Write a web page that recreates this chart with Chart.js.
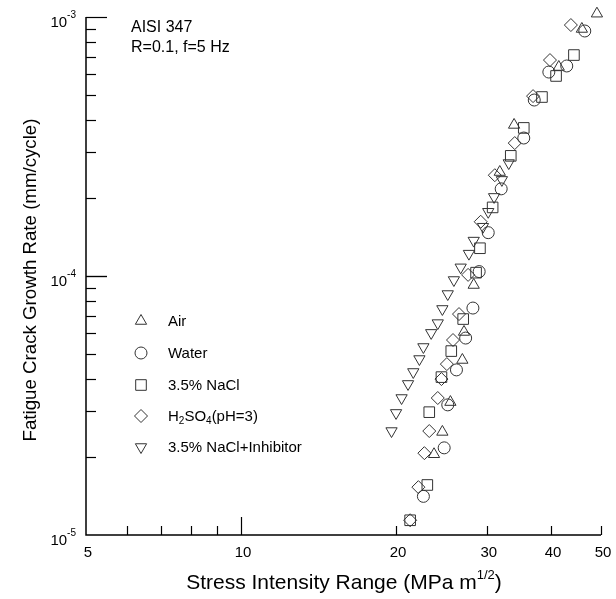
<!DOCTYPE html>
<html>
<head>
<meta charset="utf-8">
<script src="https://cdn.jsdelivr.net/npm/chart.js@4.4.0/dist/chart.umd.min.js"></script>
<style>
html, body { margin: 0; padding: 0; background: #fff; }
#wrap { width: 616px; height: 599px; position: relative; }
</style>
</head>
<body>
<div id="wrap"><canvas id="fcgChart"></canvas></div>
<script>
// stress intensity range (MPa m^1/2) and crack growth rate (mm/cycle)
var airK = [49.1, 45.9, 41.4, 33.9, 31.8, 28.3, 27.1, 26.9, 25.5, 24.6, 23.7];
var airRate = [1.03e-3, 8.99e-4, 6.41e-4, 3.83e-4, 2.52e-4, 9.23e-5, 6.08e-5, 4.74e-5, 3.26e-5, 2.50e-5, 2.05e-5];

var waterK = [46.5, 42.9, 39.6, 37.1, 35.4, 32.0, 30.2, 29.0, 28.2, 27.3, 26.2, 25.2, 24.8, 22.6];
var waterRate = [8.83e-4, 6.47e-4, 6.13e-4, 4.78e-4, 3.41e-4, 2.17e-4, 1.47e-4, 1.04e-4, 7.52e-5, 5.76e-5, 4.34e-5, 3.18e-5, 2.17e-5, 1.41e-5];

var naclK = [44.3, 40.9, 38.4, 35.4, 33.4, 30.8, 29.1, 28.6, 27.0, 25.6, 24.5, 23.2, 23.0, 21.3];
var naclRate = [7.13e-4, 5.92e-4, 4.91e-4, 3.73e-4, 2.91e-4, 1.84e-4, 1.28e-4, 1.03e-4, 6.82e-5, 5.13e-5, 4.07e-5, 2.98e-5, 1.56e-5, 1.14e-5];

var acidK = [43.7, 39.8, 36.9, 34.0, 31.1, 29.2, 27.6, 26.5, 25.8, 25.1, 24.5, 24.1, 23.2, 22.7, 22.1, 21.3];
var acidRate = [9.31e-4, 6.82e-4, 4.95e-4, 3.26e-4, 2.45e-4, 1.62e-4, 1.01e-4, 7.13e-5, 5.66e-5, 4.57e-5, 4.00e-5, 3.38e-5, 2.52e-5, 2.07e-5, 1.53e-5, 1.14e-5];

var inhibK = [33.1, 32.1, 31.0, 30.2, 29.5, 28.3, 27.7, 26.7, 25.9, 25.2, 24.6, 24.1, 23.4, 22.6, 22.2, 21.6, 21.1, 20.5, 20.0, 19.6];
var inhibRate = [2.73e-4, 2.35e-4, 2.02e-4, 1.77e-4, 1.55e-4, 1.37e-4, 1.22e-4, 1.08e-4, 9.65e-5, 8.52e-5, 7.46e-5, 6.58e-5, 6.03e-5, 5.32e-5, 4.78e-5, 4.26e-5, 3.83e-5, 3.38e-5, 2.96e-5, 2.52e-5];

var xTickLabels = [5, 10, 20, 30, 40, 50];
var yTickExps = [-5, -4, -3];

var FONT = "'Liberation Sans', Arial, sans-serif";
var INK = '#333';

function pts(xs, ys) {
    return xs.map(function (k, i) { return { x: k, y: ys[i] }; });
}

var series = [
    { label: 'Air', k: airK, r: airRate, style: 'triangle', rot: 0, size: 6.5 },
    { label: 'Water', k: waterK, r: waterRate, style: 'circle', rot: 0, size: 6 },
    { label: '3.5% NaCl', k: naclK, r: naclRate, style: 'rect', rot: 0, size: 7.5 },
    { label: 'H2SO4(pH=3)', k: acidK, r: acidRate, style: 'rectRot', rot: 0, size: 6.5 },
    { label: '3.5% NaCl+Inhibitor', k: inhibK, r: inhibRate, style: 'triangle', rot: 180, size: 6.5 }
];

var datasets = series.map(function (s) {
    return {
        label: s.label,
        data: pts(s.k, s.r),
        pointStyle: s.style,
        rotation: s.rot,
        pointRadius: s.size,
        borderColor: INK,
        backgroundColor: 'rgba(0,0,0,0)',
        borderWidth: 1,
        clip: false
    };
});

// text with sub/superscript pieces: [text, size, dy]
function drawRuns(ctx, runs, x, y) {
    runs.forEach(function (r) {
        ctx.font = r[1] + 'px ' + FONT;
        ctx.fillText(r[0], x, y + r[2]);
        x += ctx.measureText(r[0]).width;
    });
}
function runsWidth(ctx, runs) {
    var w = 0;
    runs.forEach(function (r) {
        ctx.font = r[1] + 'px ' + FONT;
        w += ctx.measureText(r[0]).width;
    });
    return w;
}

var axesPlugin = {
    id: 'axesPlugin',
    afterDraw: function (chart) {
        var ctx = chart.ctx, a = chart.chartArea;
        var xs = chart.scales.x, ys = chart.scales.y;
        ctx.save();
        ctx.strokeStyle = '#000';
        ctx.fillStyle = '#000';

        // axis lines
        ctx.lineWidth = 1.5;
        ctx.beginPath();
        ctx.moveTo(a.left, a.top);
        ctx.lineTo(a.left, a.bottom);
        ctx.lineTo(a.right, a.bottom);
        ctx.stroke();

        // inward ticks, y
        ctx.lineWidth = 1.2;
        for (var e = -5; e < -3; e++) {
            for (var m = 1; m <= 10; m++) {
                var v = m * Math.pow(10, e);
                if (m === 1 && e === -5) continue;
                var py = Math.round(ys.getPixelForValue(v)) + 0.5;
                var len = (m === 1 || m === 10) ? 21 : 10;
                ctx.beginPath();
                ctx.moveTo(a.left, py);
                ctx.lineTo(a.left + len, py);
                ctx.stroke();
            }
        }
        // inward ticks, x
        [6, 7, 8, 9, 10, 20, 30, 40, 50].forEach(function (v) {
            var px = Math.round(xs.getPixelForValue(v)) + 0.5;
            var len = v === 10 ? 18 : 9;
            ctx.beginPath();
            ctx.moveTo(px, a.bottom);
            ctx.lineTo(px, a.bottom - len);
            ctx.stroke();
        });

        // x tick labels
        ctx.textAlign = 'center';
        ctx.textBaseline = 'middle';
        ctx.font = '15px ' + FONT;
        xTickLabels.forEach(function (v) {
            ctx.fillText(String(v), xs.getPixelForValue(v) + 2, a.bottom + 18);
        });

        // y tick labels 10^n
        ctx.textAlign = 'left';
        ctx.textBaseline = 'alphabetic';
        yTickExps.forEach(function (ex) {
            var py = ys.getPixelForValue(Math.pow(10, ex));
            var runs = [['10', 15, 0], [String(ex), 10, -9]];
            var w = runsWidth(ctx, runs);
            drawRuns(ctx, runs, a.left - 10 - w, py + 10);
        });

        // axis titles
        var xt = [['Stress Intensity Range (MPa m', 21, 0], ['1/2', 13, -10], [')', 21, 0]];
        drawRuns(ctx, xt, 344 - runsWidth(ctx, xt) / 2, 589);

        ctx.save();
        ctx.translate(36, 280);
        ctx.rotate(-Math.PI / 2);
        ctx.textAlign = 'center';
        ctx.font = '18.7px ' + FONT;
        ctx.fillText('Fatigue Crack Growth Rate (mm/cycle)', 0, 0);
        ctx.restore();

        // annotation
        ctx.font = '16px ' + FONT;
        ctx.fillText('AISI 347', 131, 32);
        ctx.fillText('R=0.1, f=5 Hz', 131, 52);

        // legend
        var rowsY = [321, 353, 385, 416, 447];
        var labels = [
            [['Air', 15, 0]],
            [['Water', 15, 0]],
            [['3.5% NaCl', 15, 0]],
            [['H', 15, 0], ['2', 10, 3], ['SO', 15, 0], ['4', 10, 3], ['(pH=3)', 15, 0]],
            [['3.5% NaCl+Inhibitor', 15, 0]]
        ];
        series.forEach(function (s, i) {
            ctx.strokeStyle = INK;
            ctx.fillStyle = 'rgba(0,0,0,0)';
            ctx.lineWidth = 1;
            Chart.helpers.drawPoint(ctx, {
                pointStyle: s.style, rotation: s.rot, radius: s.size, borderWidth: 1
            }, 141, rowsY[i]);
            ctx.fillStyle = '#000';
            drawRuns(ctx, labels[i], 168, rowsY[i] + 5);
        });
        ctx.restore();
    }
};

var ctx = document.getElementById('fcgChart').getContext('2d');
var myChart = new Chart(ctx, {
    type: 'scatter',
    data: { datasets: datasets },
    options: {
        responsive: true,
        maintainAspectRatio: false,
        animation: false,
        events: [],
        layout: { padding: { left: 86, right: 15, top: 17, bottom: 64 } },
        plugins: {
            legend: { display: false },
            tooltip: { enabled: false }
        },
        scales: {
            x: { type: 'logarithmic', min: 5, max: 50, display: false },
            y: { type: 'logarithmic', min: 1e-5, max: 1e-3, display: false }
        }
    },
    plugins: [axesPlugin]
});
</script>
</body>
</html>
